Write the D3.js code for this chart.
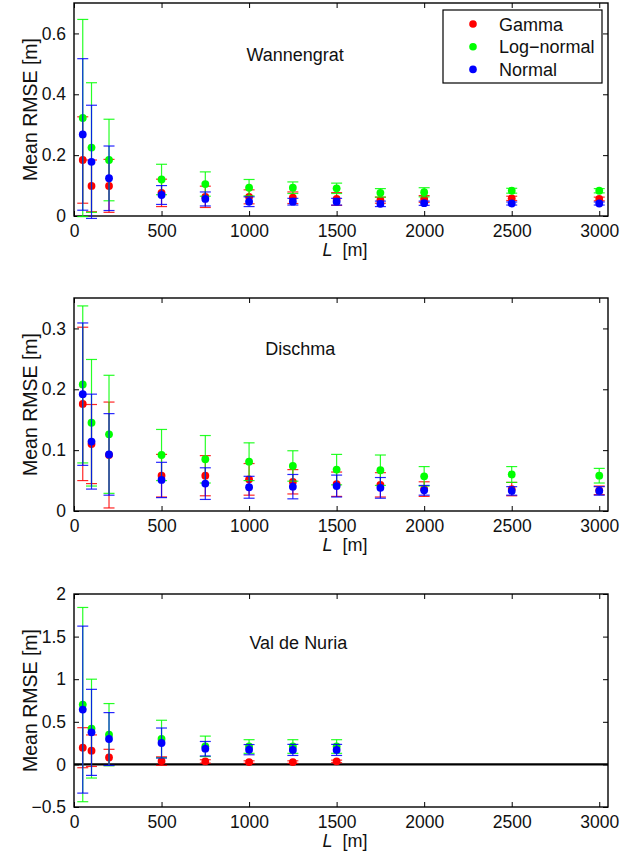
<!DOCTYPE html>
<html><head><meta charset="utf-8">
<script src="https://cdn.jsdelivr.net/npm/d3@7"></script>
<style>
html,body{margin:0;padding:0;background:#fff;}
svg{display:block;font-family:"Liberation Sans",Arial,Helvetica,sans-serif;}
</style></head>
<body><svg id="chart" width="623" height="855"></svg>
<script>
// ---------- data ----------
const lengths = [50,100,200,500,750,1000,1250,1500,1750,2000,2500,3000];
const lengthsNuria = [50,100,200,500,750,1000,1250,1500];
const seriesNames = ["Gamma","Log\u2212normal","Normal"];
const xTicks = [0,500,1000,1500,2000,2500,3000];

// Wannengrat
const wanGamma     = [0.184,0.099,0.099,0.076,0.063,0.063,0.060,0.056,0.052,0.056,0.058,0.056];
const wanGammaErr  = [0.142,0.085,0.087,0.045,0.035,0.023,0.019,0.021,0.010,0.011,0.007,0.006];
const wanLogn      = [0.322,0.225,0.184,0.120,0.105,0.093,0.093,0.091,0.076,0.078,0.083,0.083];
const wanLognErr   = [0.324,0.213,0.134,0.050,0.040,0.027,0.019,0.017,0.014,0.015,0.008,0.007];
const wanNormal    = [0.268,0.178,0.124,0.069,0.056,0.047,0.047,0.047,0.040,0.042,0.041,0.041];
const wanNormalErr = [0.249,0.186,0.106,0.031,0.023,0.016,0.011,0.011,0.009,0.007,0.005,0.005];
const wanYTicks = [0,0.2,0.4,0.6];

// Dischma
const disGamma     = [0.176,0.110,0.092,0.058,0.058,0.052,0.048,0.044,0.043,0.036,0.036,0.034];
const disGammaErr  = [0.126,0.065,0.087,0.035,0.033,0.026,0.020,0.020,0.020,0.012,0.011,0.007];
const disLogn      = [0.208,0.145,0.126,0.092,0.085,0.081,0.074,0.068,0.067,0.057,0.060,0.058];
const disLognErr   = [0.129,0.104,0.097,0.042,0.039,0.031,0.025,0.025,0.025,0.016,0.013,0.012];
const disNormal    = [0.192,0.114,0.093,0.051,0.045,0.039,0.040,0.041,0.038,0.034,0.033,0.033];
const disNormalErr = [0.117,0.078,0.067,0.029,0.026,0.018,0.020,0.018,0.017,0.008,0.007,0.007];
const disYTicks = [0,0.1,0.2,0.3];

// Val de Nuria
const nurGamma     = [0.196,0.161,0.082,0.039,0.035,0.027,0.027,0.035];
const nurGammaErr  = [0.235,0.185,0.095,0.050,0.020,0.015,0.015,0.015];
const nurLogn      = [0.702,0.420,0.349,0.298,0.212,0.210,0.210,0.210];
const nurLognErr   = [1.140,0.580,0.365,0.220,0.120,0.080,0.080,0.080];
const nurNormal    = [0.643,0.376,0.298,0.251,0.184,0.173,0.170,0.170];
const nurNormalErr = [0.980,0.505,0.310,0.176,0.085,0.060,0.065,0.065];
const nurYTicks = [-0.5,0,0.5,1,1.5,2];

// ---------- layout ----------
const colors = ["#ff0000","#00ff00","#0000ff"];
const left = 74, right = 608, panelH = 213;
const svg = d3.select("#chart");
const fmtY = d => d < 0 ? "\u2212" + Math.abs(d) : String(d);

const panels = [
  {top:3,   yDomain:[0,0.7],  yTicks:wanYTicks, x:lengths, title:"Wannengrat", tx:985, ty:0.51,
   series:[[wanGamma,wanGammaErr],[wanLogn,wanLognErr],[wanNormal,wanNormalErr]], legend:true},
  {top:298, yDomain:[0,0.35], yTicks:disYTicks, x:lengths, title:"Dischma", tx:1093, ty:0.256,
   series:[[disGamma,disGammaErr],[disLogn,disLognErr],[disNormal,disNormalErr]]},
  {top:594, yDomain:[-0.5,2], yTicks:nurYTicks, x:lengthsNuria, title:"Val de Nuria", tx:1002, ty:1.35,
   series:[[nurGamma,nurGammaErr],[nurLogn,nurLognErr],[nurNormal,nurNormalErr]], zeroLine:true}
];

const x = d3.scaleLinear().domain([0,3050]).range([left,right]);

panels.forEach(p => {
  const bottom = p.top + panelH;
  const y = d3.scaleLinear().domain(p.yDomain).range([bottom,p.top]);
  const g = svg.append("g");

  // axes with inward ticks
  const tl = 5;
  const xb = g.append("g").attr("transform",`translate(0,${bottom})`)
    .call(d3.axisBottom(x).tickValues(xTicks).tickSize(-tl).tickFormat(d3.format("d")));
  const xt = g.append("g").attr("transform",`translate(0,${p.top})`)
    .call(d3.axisTop(x).tickValues(xTicks).tickSize(-tl).tickFormat(""));
  const yl = g.append("g").attr("transform",`translate(${left},0)`)
    .call(d3.axisLeft(y).tickValues(p.yTicks).tickSize(-tl).tickPadding(8).tickFormat(fmtY));
  const yr = g.append("g").attr("transform",`translate(${right},0)`)
    .call(d3.axisRight(y).tickValues(p.yTicks).tickSize(-tl).tickFormat(""));
  [xb,xt,yl,yr].forEach(a => {
    a.select(".domain").remove();
    a.selectAll("line").attr("stroke","#000").attr("stroke-width",1);
    a.selectAll("text").attr("fill","#111").style("font-size","17.5px").style("font-family","'Liberation Sans',Arial,sans-serif");
  });
  xb.selectAll("text").attr("y",20.5).attr("dy","0");
  g.append("rect").attr("x",left).attr("y",p.top).attr("width",right-left).attr("height",panelH)
    .attr("fill","none").attr("stroke","#000").attr("stroke-width",1.4);

  if (p.zeroLine) {
    g.append("line").attr("x1",left).attr("x2",right).attr("y1",y(0)).attr("y2",y(0))
      .attr("stroke","#000").attr("stroke-width",2.2);
  }

  // series: error bars then markers
  p.series.forEach((s,si) => {
    const [vals, errs] = s;
    const sg = g.append("g");
    const col = colors[si];
    vals.forEach((v,i) => {
      const cx = x(p.x[i]);
      const lo = y(v - errs[i]), hi = y(v + errs[i]);
      sg.append("line").attr("x1",cx).attr("x2",cx).attr("y1",lo).attr("y2",hi)
        .attr("stroke",col).attr("stroke-width",1.2).attr("stroke-opacity",0.85);
      [lo,hi].forEach(yy => sg.append("line").attr("x1",cx-5.5).attr("x2",cx+5.5)
        .attr("y1",yy).attr("y2",yy).attr("stroke",col).attr("stroke-width",1.2).attr("stroke-opacity",0.85));
    });
    sg.selectAll("circle").data(vals).join("circle")
      .attr("cx",(d,i)=>x(p.x[i])).attr("cy",d=>y(d)).attr("r",3.9).attr("fill",col);
  });

  // title annotation
  g.append("text").attr("x",x(p.tx)).attr("y",y(p.ty)).text(p.title)
    .style("font-size","18px").attr("fill","#111");

  // x label
  const xl = g.append("text").attr("x",(left+right)/2+4).attr("y",bottom+40)
    .attr("text-anchor","middle").style("font-size","18px").attr("fill","#111");
  xl.append("tspan").style("font-style","italic").text("L");
  xl.append("tspan").text("\u00a0 [m]");

  // y label
  g.append("text").attr("transform",`translate(37,${(p.top+bottom)/2}) rotate(-90)`)
    .attr("text-anchor","middle").style("font-size","19.5px").attr("fill","#111").text("Mean RMSE [m]");

  if (p.legend) {
    const lg = g.append("g");
    lg.append("rect").attr("x",443).attr("y",10).attr("width",159).attr("height",73)
      .attr("fill","#fff").attr("stroke","#000").attr("stroke-width",1.2);
    seriesNames.forEach((n,i) => {
      const yy = 24 + i*22.7;
      lg.append("circle").attr("cx",473).attr("cy",yy).attr("r",3.8).attr("fill",colors[i]);
      lg.append("text").attr("x",499).attr("y",yy+6.5).text(n).style("font-size","18px").attr("fill","#111");
    });
  }
});
</script></body></html>
